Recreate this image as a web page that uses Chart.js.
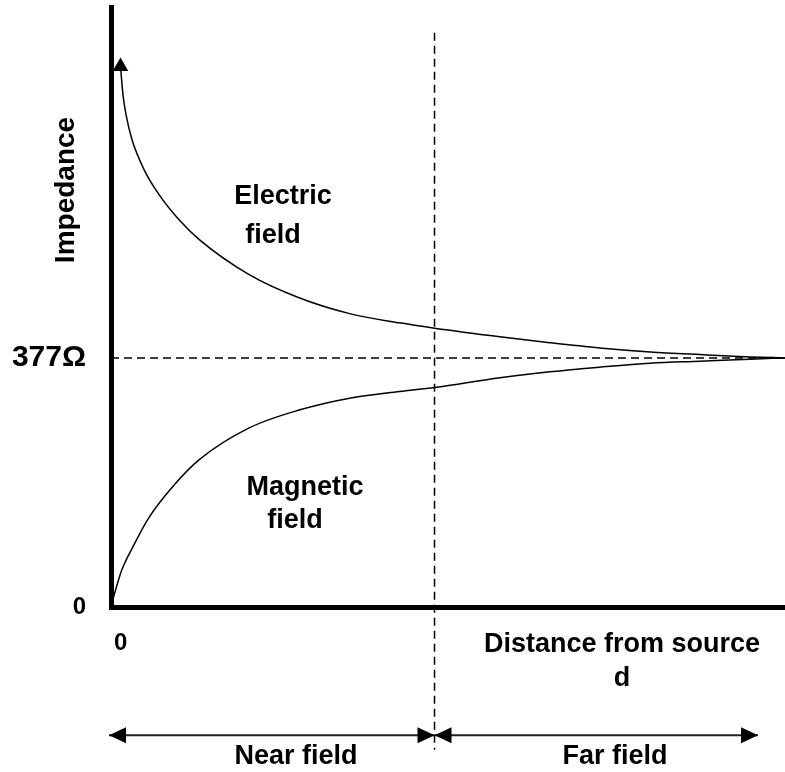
<!DOCTYPE html>
<html>
<head>
<meta charset="utf-8">
<script src="https://cdn.jsdelivr.net/npm/chart.js@4/dist/chart.umd.min.js"></script>
<style>
    html, body { margin: 0; padding: 0; background: #fff; }
    canvas { display: block; }
</style>
</head>
<body>
<canvas id="impedanceChart" width="785" height="772"></canvas>
<script>
// Distance from source (arbitrary units, 0..10) and wave impedance (ohms)
const electricDistance = [0.141, 0.178, 0.223, 0.312, 0.49, 0.713, 1.01, 1.31, 2.05, 2.79, 3.54, 4.28, 4.8, 5.77, 6.51, 7.25, 8.0, 8.74, 9.48, 10];
const electricImpedance = [818, 775, 745, 707, 662, 624, 586, 556, 503, 468, 444, 430, 422, 409, 400, 392, 386, 382, 378.5, 377];

const magneticDistance = [0, 0.06, 0.16, 0.34, 0.56, 0.94, 1.31, 2.05, 2.79, 3.54, 4.28, 4.8, 5.77, 6.51, 7.25, 8.0, 8.74, 9.48, 10];
const magneticImpedance = [0, 23, 56, 94, 135, 185, 223, 271, 298, 316, 326, 332, 347, 356, 363, 369, 372, 375, 377];

// Tick labels
const yTickValues = [0, 377];
const yTickLabels = ['0', '377Ω'];
const xTickValues = [0];
const xTickLabels = ['0'];

// Boundary between near and far field, and free space impedance
const fieldBoundary = 4.8;
const freeSpaceImpedance = 377;

const FONT = '"Liberation Sans", Arial, sans-serif';
Chart.defaults.font.family = FONT;
Chart.defaults.color = '#000';

function toPoints(xs, ys) {
    return xs.map((x, i) => ({ x: x, y: ys[i] }));
}

// Texts that are not tied to an axis tick
const textPlugin = {
    id: 'diagramTexts',
    afterDraw(chart) {
        const ctx = chart.ctx;
        ctx.save();
        ctx.fillStyle = '#000';
        ctx.font = 'bold 27px ' + FONT;
        ctx.textAlign = 'center';
        ctx.textBaseline = 'middle';

        ctx.fillText('Electric', 283, 197);
        ctx.fillText('field', 273, 236);
        ctx.fillText('Magnetic', 305, 488);
        ctx.fillText('field', 295, 521);
        ctx.fillText('Distance from source', 622, 645);
        ctx.fillText('d', 622, 679);
        ctx.fillText('Near field', 296, 757);
        ctx.fillText('Far field', 615, 757);

        ctx.font = 'bold 28px ' + FONT;
        ctx.translate(66, 190);
        ctx.rotate(-Math.PI / 2);
        ctx.fillText('Impedance', 0, 0);
        ctx.restore();
    }
};

// Arrow heads on both ends of the near / far field spans
const arrowPlugin = {
    id: 'spanArrows',
    afterDatasetsDraw(chart) {
        const ctx = chart.ctx;
        ctx.save();
        ctx.fillStyle = '#000';
        chart.data.datasets.forEach((ds, i) => {
            if (!ds.arrows) return;
            const pts = chart.getDatasetMeta(i).data;
            const a = pts[0], b = pts[pts.length - 1];
            [[a, -1], [b, 1]].forEach(([p, dir]) => {
                ctx.beginPath();
                ctx.moveTo(p.x, p.y);
                ctx.lineTo(p.x - dir * 17, p.y - 8);
                ctx.lineTo(p.x - dir * 17, p.y + 8);
                ctx.closePath();
                ctx.fill();
            });
        });
        ctx.restore();
    }
};

const arrowY = -194;
const dashed = [8, 5];

new Chart(document.getElementById('impedanceChart'), {
    type: 'line',
    data: {
        datasets: [
            {
                label: 'Electric field',
                data: toPoints(electricDistance, electricImpedance),
                borderColor: '#000',
                borderWidth: 1.5,
                cubicInterpolationMode: 'monotone',
                pointStyle: 'triangle',
                pointRadius: ctx => ctx.dataIndex === 0 ? 9 : 0,
                pointBorderWidth: 0,
                pointBackgroundColor: '#000',
                clip: false
            },
            {
                label: 'Magnetic field',
                data: toPoints(magneticDistance, magneticImpedance),
                borderColor: '#000',
                borderWidth: 1.5,
                cubicInterpolationMode: 'monotone',
                pointRadius: 0
            },
            {
                label: '377 ohm',
                data: [{ x: 0, y: freeSpaceImpedance }, { x: 10, y: freeSpaceImpedance }],
                borderColor: '#000',
                borderWidth: 1.5,
                borderDash: dashed,
                pointRadius: 0
            },
            {
                label: 'boundary',
                data: [{ x: fieldBoundary, y: 869 }, { x: fieldBoundary, y: -216 }],
                borderColor: '#000',
                borderWidth: 1.5,
                borderDash: dashed,
                pointRadius: 0,
                clip: false
            },
            {
                label: 'Near field',
                data: [{ x: -0.03, y: arrowY }, { x: fieldBoundary, y: arrowY }],
                borderColor: '#222',
                borderWidth: 2,
                pointRadius: 0,
                arrows: true,
                clip: false
            },
            {
                label: 'Far field',
                data: [{ x: fieldBoundary, y: arrowY }, { x: 9.6, y: arrowY }],
                borderColor: '#222',
                borderWidth: 2,
                pointRadius: 0,
                arrows: true,
                clip: false
            }
        ]
    },
    options: {
        responsive: false,
        animation: false,
        layout: { autoPadding: false, padding: { top: 7, right: 0, left: 0, bottom: 0 } },
        plugins: {
            legend: { display: false },
            tooltip: { enabled: false }
        },
        scales: {
            x: {
                type: 'linear',
                min: 0,
                max: 10,
                grid: { display: false },
                border: { display: true, color: '#000', width: 5 },
                afterBuildTicks: scale => { scale.ticks = xTickValues.map(v => ({ value: v })); },
                afterFit: scale => {
                    scale.height = 165;
                    scale.paddingLeft = 0;
                    scale.paddingRight = 0;
                },
                ticks: {
                    align: 'start',
                    labelOffset: 3,
                    padding: 14,
                    color: '#000',
                    font: { size: 24, weight: 'bold' },
                    callback: (value, index) => xTickLabels[index]
                }
            },
            y: {
                type: 'linear',
                min: 0,
                max: 908,
                grid: { display: false },
                border: { display: true, color: '#000', width: 5 },
                afterBuildTicks: scale => { scale.ticks = yTickValues.map(v => ({ value: v })); },
                afterFit: scale => {
                    scale.width = 111;
                    scale.paddingTop = 0;
                    scale.paddingBottom = 0;
                },
                ticks: {
                    padding: 17,
                    color: '#000',
                    font: ctx => ({ size: ctx.index === 1 ? 30 : 24, weight: 'bold' }),
                    callback: (value, index) => yTickLabels[index]
                }
            }
        }
    },
    plugins: [arrowPlugin, textPlugin]
});
</script>
</body>
</html>
